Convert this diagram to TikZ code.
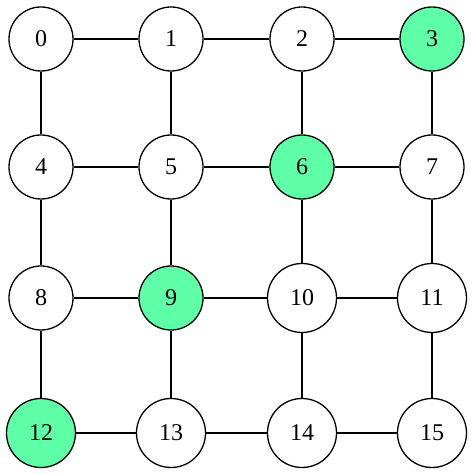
\documentclass[tikz,border=0pt]{standalone}
\usepackage{fontspec}
\setmainfont{Liberation Serif}
\definecolor{hl}{HTML}{5FFFA8}
\begin{document}
\begin{tikzpicture}[x=1pt,y=1pt,
  nd/.style={circle,draw=black,line width=1.3pt,fill=white,inner sep=0pt,minimum size=64pt,font=\fontsize{24}{26}\selectfont},
  nw/.style={nd,minimum size=69pt},
  hi/.style={fill=hl},
  ed/.style={line width=1.3pt}]
\useasboundingbox (0,0) rectangle (474,474);
\node[nd] (n0) at (41,435) {0};
\node[nd] (n1) at (171,435) {1};
\node[nd] (n2) at (302,435) {2};
\node[nd,hi] (n3) at (432,435) {3};
\node[nd] (n4) at (41,307) {4};
\node[nd] (n5) at (171,307) {5};
\node[nd,hi] (n6) at (302,307) {6};
\node[nd] (n7) at (432,307) {7};
\node[nd] (n8) at (41,176) {8};
\node[nd,hi] (n9) at (171,176) {9};
\node[nw] (n10) at (302,176) {10};
\node[nw] (n11) at (432,176) {11};
\node[nw,hi] (n12) at (41,41) {12};
\node[nw] (n13) at (171,41) {13};
\node[nw] (n14) at (302,41) {14};
\node[nw] (n15) at (432,41) {15};
\foreach \a/\b in {0/1,1/2,2/3,4/5,5/6,6/7,8/9,9/10,10/11,12/13,13/14,14/15,
                   0/4,4/8,8/12,1/5,5/9,9/13,2/6,6/10,10/14,3/7,7/11,11/15}
  \draw[ed] (n\a) -- (n\b);
\end{tikzpicture}
\end{document}
